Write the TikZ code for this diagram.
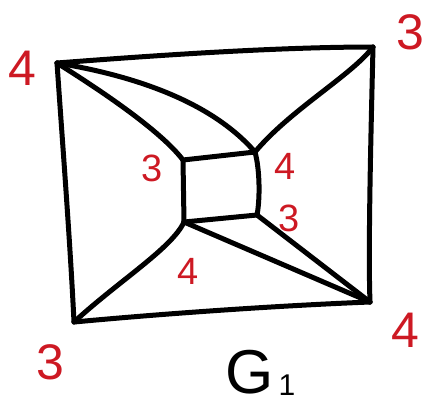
\documentclass[tikz,border=0pt]{standalone}
\usepackage{fontspec}
\setmainfont{Liberation Sans}
\definecolor{lblred}{RGB}{205,25,35}
\begin{document}
\begin{tikzpicture}[x=1pt,y=-1pt,
  edge/.style={line width=5pt,line cap=round,line join=round,black},
  biglbl/.style={text=lblred,font=\fontsize{50}{50}\selectfont,inner sep=0pt},
  smalllbl/.style={text=lblred,font=\fontsize{38}{38}\selectfont,inner sep=0pt}]
\useasboundingbox (0,0) rectangle (425,408);
% outer vertices
\coordinate (o1) at (57,63);
\coordinate (o2) at (373,47);
\coordinate (o3) at (370,302);
\coordinate (o4) at (74,322);
% inner vertices
\coordinate (i1) at (183,160);
\coordinate (i2) at (255,152);
\coordinate (i3) at (257,215);
\coordinate (i4) at (184,222);
% outer cycle
\draw[edge] (o1) .. controls (160,55) and (280,47) .. (o2);
\draw[edge] (o2) .. controls (371,130) and (368,250) .. (o3);
\draw[edge] (o3) .. controls (270,306) and (160,314) .. (o4);
\draw[edge] (o4) .. controls (70,240) and (63,150) .. (o1);
% inner cycle
\draw[edge] (i1) -- (i2);
\draw[edge] (i2) .. controls (260,170) and (260,200) .. (i3);
\draw[edge] (i3) -- (i4);
\draw[edge] (i4) -- (i1);
% spokes
\draw[edge] (o1) .. controls (100,90) and (160,130) .. (i1);
\draw[edge] (o1) .. controls (130,75) and (210,100) .. (i2);
\draw[edge] (o2) .. controls (352,75) and (290,110) .. (i2);
\draw[edge] (o3) -- (i3);
\draw[edge] (o3) -- (i4);
\draw[edge] (o4) .. controls (120,280) and (172,248) .. (i4);
% labels
\node[biglbl] (l1) at (22,68) {4};
\node[biglbl] (l2) at (410,32) {3};
\node[biglbl] (l3) at (405,330) {4};
\node[biglbl] (l4) at (50,362) {3};
\node[smalllbl] (l5) at (152,168) {3};
\node[smalllbl] (l6) at (285,166) {4};
\node[smalllbl] (l7) at (289,218) {3};
\node[smalllbl] (l8) at (188,271) {4};
\node[font=\fontsize{62}{62}\selectfont,inner sep=0pt] (g) at (250,372) {G};
\node[font=\fontsize{30}{30}\selectfont,inner sep=0pt] (g1) at (287,385) {1};
\end{tikzpicture}
\end{document}
